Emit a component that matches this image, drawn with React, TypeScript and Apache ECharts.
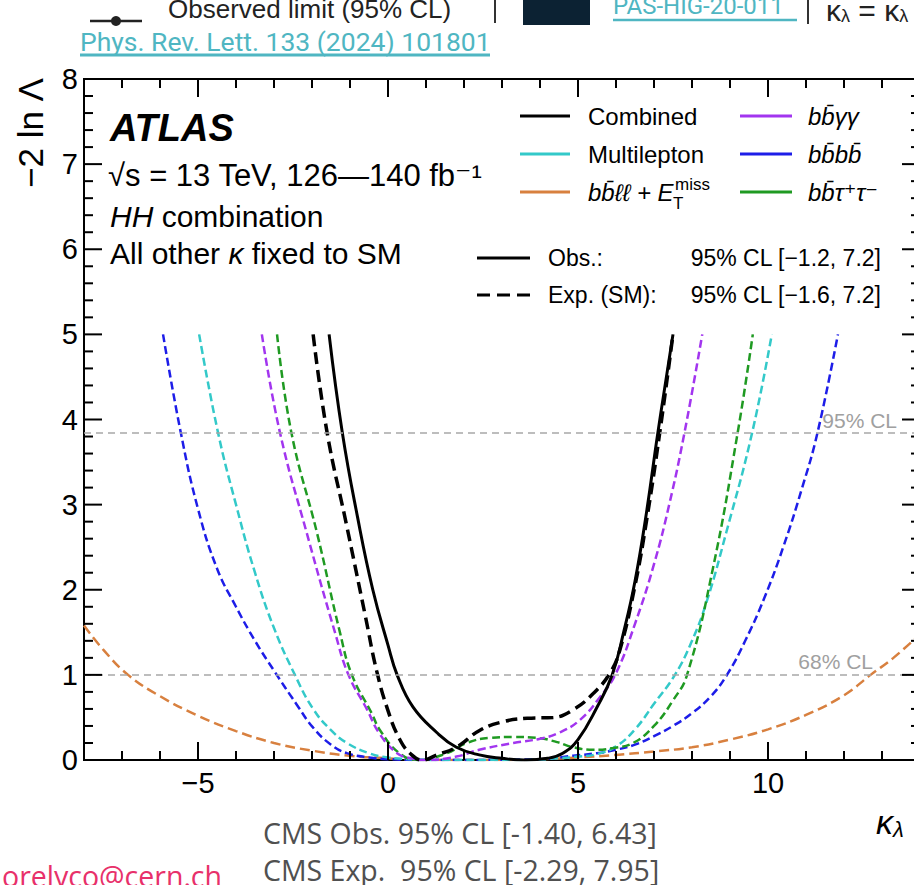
import React, { useEffect, useRef } from "react";
import * as echarts from "echarts";

// ---- data (kappa_lambda, -2 ln Lambda) ----
const combinedObs = [[-1.55,5.0],[-1.2,3.84],[-0.8,2.85],[-0.4,2.0],[0.0,1.35],[0.24,1.0],[0.66,0.62],[1.29,0.32],[1.8,0.15],[2.4,0.06],[3.0,0.02],[3.6,0.0],[4.2,0.02],[4.6,0.08],[5.0,0.24],[5.5,0.62],[5.9,1.0],[6.2,1.5],[6.5,2.1],[6.8,2.9],[7.1,3.84],[7.5,5.0]];
const combinedExp = [[-1.97,5.0],[-1.6,3.84],[-1.1,2.78],[-0.6,1.7],[-0.3,1.05],[0.0,0.58],[0.3,0.25],[0.6,0.07],[0.9,0.0],[1.29,0.06],[1.8,0.15],[2.42,0.35],[3.03,0.45],[3.66,0.49],[4.35,0.5],[4.87,0.59],[5.4,0.78],[5.84,1.02],[6.1,1.29],[6.5,2.05],[6.8,2.8],[7.15,3.84],[7.5,5.0]];
const bbyy = [[-3.32,5.0],[-2.84,3.84],[-2.14,2.67],[-1.39,1.49],[-1.04,1.0],[-0.56,0.6],[-0.21,0.3],[0.24,0.08],[0.6,0.02],[1.0,0.0],[1.8,0.04],[2.4,0.12],[3.3,0.2],[4.0,0.25],[4.5,0.32],[5.05,0.47],[5.58,0.74],[6.0,1.02],[6.5,1.6],[7.0,2.3],[7.4,3.0],[7.8,3.84],[8.27,5.0]];
const bbtautau = [[-2.92,5.0],[-2.54,3.84],[-1.87,2.67],[-1.26,1.49],[-0.95,1.0],[-0.43,0.55],[-0.21,0.35],[0.3,0.08],[0.8,0.0],[1.55,0.08],[2.07,0.2],[2.68,0.26],[3.3,0.27],[3.92,0.26],[4.45,0.21],[4.87,0.15],[5.4,0.12],[5.92,0.14],[6.45,0.2],[7.0,0.4],[7.5,0.7],[7.87,1.0],[8.55,2.25],[9.2,3.84],[9.6,5.0]];
const multilepton = [[-4.97,5.0],[-4.47,3.84],[-4.0,3.0],[-3.5,2.2],[-3.0,1.55],[-2.45,1.0],[-1.97,0.6],[-1.5,0.35],[-1.08,0.2],[-0.5,0.08],[0.0,0.03],[0.6,0.01],[1.5,0.0],[3.5,0.0],[4.5,0.02],[5.0,0.04],[5.5,0.07],[6.0,0.16],[6.5,0.36],[7.0,0.66],[7.55,1.0],[8.0,1.4],[8.4,1.88],[8.9,2.67],[9.58,3.84],[10.1,5.0]];
const bbbb = [[-5.92,5.0],[-5.45,3.84],[-5.0,2.95],[-4.5,2.25],[-4.0,1.8],[-3.5,1.4],[-3.0,1.05],[-2.4,0.65],[-1.97,0.38],[-1.5,0.18],[-1.08,0.08],[-0.5,0.03],[0.0,0.01],[1.0,0.0],[4.0,0.01],[4.87,0.05],[5.5,0.08],[6.0,0.12],[6.5,0.18],[7.0,0.28],[7.5,0.4],[8.0,0.55],[8.5,0.75],[8.92,1.0],[9.4,1.4],[9.9,1.9],[10.4,2.5],[10.9,3.2],[11.3,3.84],[11.84,5.0]];
const bbllMET = [[-8.0,1.58],[-7.5,1.3],[-6.84,1.0],[-6.0,0.75],[-5.0,0.52],[-4.0,0.34],[-3.0,0.2],[-2.0,0.11],[-1.0,0.05],[0.0,0.02],[1.0,0.0],[3.0,0.0],[4.0,0.01],[5.0,0.03],[6.0,0.06],[7.0,0.1],[8.0,0.15],[9.0,0.24],[10.0,0.36],[11.0,0.53],[12.0,0.76],[12.7,1.0],[13.3,1.2],[14.0,1.48]];

const clLevels = [3.84, 1.0];
const clLabels = ["95% CL", "68% CL"];
const xMajorTicks = [-5, 0, 5, 10];
const yMajorTicks = [0, 1, 2, 3, 4, 5, 6, 7, 8];

const C = {
  purple: "#a235ef",
  cyan: "#33c9c9",
  blue: "#1d1de8",
  green: "#1f9a22",
  orange: "#d8803f",
  teal: "#4fb6c2",
};
const FONT = '"Liberation Sans", Arial, "DejaVu Sans", sans-serif';
const SMOOTH = 0.45;

export default function App() {
  const ref = useRef<HTMLDivElement>(null);
  useEffect(() => {
    const chart = echarts.init(ref.current!, null, { renderer: "svg" });

    const xTickData: number[][] = [];
    for (let v = -8; v <= 14; v++) xTickData.push([v, xMajorTicks.includes(v) ? 1 : 0]);
    const yTickData: number[][] = [];
    for (let i = 0; i <= 40; i++) {
      const v = i / 5;
      yTickData.push([v, yMajorTicks.includes(v) ? 1 : 0]);
    }

    const dashed = (name: string, data: number[][], color: string, dash: number[], width = 2.5, z = 2) => ({
      name,
      type: "line",
      data,
      smooth: SMOOTH,
      showSymbol: false,
      symbol: "none",
      clip: true,
      z,
      lineStyle: { color, width, type: dash },
    });

    const txt = (text: string, x: number, y: number, font: string, fill = "#000", align = "left", extra: any = {}) => ({
      type: "text",
      x,
      y,
      silent: true,
      style: { text, font, fill, align, verticalAlign: "middle", textAlign: align, textVerticalAlign: "middle", ...extra },
    });
    const ln = (x1: number, y1: number, x2: number, y2: number, stroke: string, lineWidth = 3, lineDash: any = null) => ({
      type: "line",
      silent: true,
      shape: { x1, y1, x2, y2 },
      style: { stroke, lineWidth, lineDash },
    });

    const legendFont = `24px ${FONT}`;
    const legendItalic = `italic 24px ${FONT}`;
    const slideFont = `"Open Sans", ${FONT}`;

    const graphic: any[] = [
      // top strip of the slide
      ln(90, 21, 142, 21, "#222", 2.5),
      { type: "circle", shape: { cx: 116, cy: 21, r: 5 }, style: { fill: "#222" } },
      txt("Observed limit (95% CL)", 168, 9, `26px ${FONT}`, "#222"),
      ln(495, 0, 495, 23, "#333", 2),
      { type: "rect", shape: { x: 523, y: 0, width: 67, height: 25 }, style: { fill: "#0c2233" } },
      txt("PAS-HIG-20-011", 613, 6, `24px Roboto, ${FONT}`, C.teal),
      ln(613, 20, 797, 20, C.teal, 2.5),
      ln(808, 0, 808, 24, "#333", 2),
      {
        type: "text", x: 826, y: 10, silent: true,
        style: {
          text: "{k|κ}{s|λ}{k| = κ}{s|λ}", verticalAlign: "middle", textVerticalAlign: "middle",
          rich: { k: { font: `30px ${FONT}`, fill: "#222" }, s: { font: `18px ${FONT}`, fill: "#222", padding: [12, 0, 0, 0] } },
        },
      },
      txt("Phys. Rev. Lett. 133 (2024) 101801", 80, 41, `26.5px Roboto, ${FONT}`, C.teal),
      ln(80, 55, 490, 55, C.teal, 3),

      // y-axis title
      {
        type: "text", x: 30, y: 133, rotation: Math.PI / 2, silent: true,
        style: { text: "−2 ln Λ", font: `35px ${FONT}`, fill: "#000", align: "center", verticalAlign: "middle", textAlign: "center", textVerticalAlign: "middle" },
      },

      // ATLAS block
      txt("ATLAS", 110, 128, `italic bold 38px ${FONT}`),
      txt("√s = 13 TeV, 126—140 fb⁻¹", 108, 175, `31px ${FONT}`),
      {
        type: "text", x: 110, y: 216, silent: true,
        style: { text: "{i|HH}{n| combination}", verticalAlign: "middle", textVerticalAlign: "middle",
          rich: { i: { font: `italic 30px ${FONT}`, fill: "#000" }, n: { font: `30px ${FONT}`, fill: "#000" } } },
      },
      {
        type: "text", x: 110, y: 253, silent: true,
        style: { text: "{n|All other }{i|κ}{n| fixed to SM}", verticalAlign: "middle", textVerticalAlign: "middle",
          rich: { i: { font: `italic 30px ${FONT}`, fill: "#000" }, n: { font: `30px ${FONT}`, fill: "#000" } } },
      },

      // channel legend
      ln(520, 116, 570, 116, "#000", 3),
      txt("Combined", 588, 116, legendFont),
      ln(520, 154, 570, 154, C.cyan, 3),
      txt("Multilepton", 588, 154, legendFont),
      ln(520, 192, 570, 192, C.orange, 3),
      txt("bb̄ℓℓ + E", 588, 192, legendItalic),
      txt("miss", 675, 184, `17px ${FONT}`),
      txt("T", 673, 203, `17px ${FONT}`),
      ln(740, 116, 792, 116, C.purple, 3),
      txt("bb̄γγ", 808, 116, legendItalic),
      ln(740, 154, 792, 154, C.blue, 3),
      txt("bb̄bb̄", 808, 154, legendItalic),
      ln(740, 192, 792, 192, C.green, 3),
      txt("bb̄τ⁺τ⁻", 808, 192, legendItalic),

      // obs / exp legend
      ln(477, 258, 530, 258, "#000", 3),
      txt("Obs.:", 548, 258, `23px ${FONT}`),
      txt("95% CL [−1.2, 7.2]", 881, 258, `23px ${FONT}`, "#000", "right"),
      ln(477, 295, 530, 295, "#000", 3, [13, 7]),
      txt("Exp. (SM):", 548, 295, `23px ${FONT}`),
      txt("95% CL [−1.6, 7.2]", 881, 295, `23px ${FONT}`, "#000", "right"),

      // CL labels
      txt(clLabels[0], 897, 420, `21px ${FONT}`, "#a0a0a0", "right"),
      txt(clLabels[1], 873, 661, `21px ${FONT}`, "#a0a0a0", "right"),

      // bottom of slide
      {
        type: "text", x: 876, y: 822, silent: true,
        style: { text: "{k|κ}{s|λ}", verticalAlign: "middle", textVerticalAlign: "middle",
          rich: { k: { font: `italic 34px ${FONT}`, fill: "#000" }, s: { font: `italic 22px ${FONT}`, fill: "#000", padding: [14, 0, 0, 0] } } },
      },
      txt("CMS Obs. 95% CL [-1.40, 6.43]", 263, 833, `28.5px ${slideFont}`, "#505050"),
      txt("CMS Exp.  95% CL [-2.29, 7.95]", 263, 870, `28.5px ${slideFont}`, "#505050"),
      txt("orelyco@cern.ch", 222, 876, `28.5px ${slideFont}`, "#e8306a", "right"),
    ];

    const option: any = {
      animation: false,
      backgroundColor: "#ffffff",
      grid: { left: 84, top: 79, width: 836, height: 681, show: true, borderColor: "#000", borderWidth: 2, backgroundColor: "transparent" },
      xAxis: {
        type: "value", min: -8, max: 14, interval: 1,
        axisLine: { show: false }, axisTick: { show: false }, splitLine: { show: false },
        axisLabel: {
          margin: 8, color: "#000", fontSize: 29, fontFamily: FONT,
          formatter: (v: number) => (xMajorTicks.includes(v) ? String(v).replace("-", "−") : ""),
        },
      },
      yAxis: {
        type: "value", min: 0, max: 8, interval: 1,
        axisLine: { show: false }, axisTick: { show: false }, splitLine: { show: false },
        axisLabel: { margin: 6, color: "#000", fontSize: 29, fontFamily: FONT, formatter: (v: number) => (yMajorTicks.includes(v) ? String(v) : "") },
      },
      graphic,
      series: [
        {
          type: "custom", name: "xticks", data: xTickData, clip: false, silent: true, z: 5,
          renderItem: (params: any, api: any) => {
            const v = api.value(0);
            const len = api.value(1) === 1 ? 18 : 9;
            const p = api.coord([v, 0]);
            const cs = params.coordSys;
            const top = cs.y, bottom = cs.y + cs.height;
            return {
              type: "group",
              children: [
                { type: "line", shape: { x1: p[0], y1: bottom, x2: p[0], y2: bottom - len }, style: { stroke: "#000", lineWidth: 2 } },
                { type: "line", shape: { x1: p[0], y1: top, x2: p[0], y2: top + len }, style: { stroke: "#000", lineWidth: 2 } },
              ],
            };
          },
        },
        {
          type: "custom", name: "yticks", data: yTickData, clip: false, silent: true, z: 5,
          renderItem: (params: any, api: any) => {
            const v = api.value(0);
            const len = api.value(1) === 1 ? 18 : 9;
            const p = api.coord([-8, v]);
            const cs = params.coordSys;
            const left = cs.x, right = cs.x + cs.width;
            return {
              type: "group",
              children: [
                { type: "line", shape: { x1: left, y1: p[1], x2: left + len, y2: p[1] }, style: { stroke: "#000", lineWidth: 2 } },
                { type: "line", shape: { x1: right, y1: p[1], x2: right - len, y2: p[1] }, style: { stroke: "#000", lineWidth: 2 } },
              ],
            };
          },
        },
        {
          ...dashed("bbllMET", bbllMET, C.orange, [10, 5], 2.5, 2),
          markLine: {
            silent: true, symbol: "none", label: { show: false },
            lineStyle: { color: "#a8a8a8", width: 1.6, type: [7, 5] },
            data: clLevels.map((y) => ({ yAxis: y })),
          },
        },
        dashed("bbbb", bbbb, C.blue, [8, 4], 2.5, 3),
        dashed("multilepton", multilepton, C.cyan, [8, 4], 2.5, 3),
        dashed("bbtautau", bbtautau, C.green, [8, 4], 2.5, 3),
        dashed("bbyy", bbyy, C.purple, [8, 4], 2.5, 3),
        dashed("combinedExp", combinedExp, "#000", [12, 6], 3.5, 4),
        {
          name: "combinedObs", type: "line", data: combinedObs, smooth: SMOOTH,
          showSymbol: false, symbol: "none", clip: true, z: 4, lineStyle: { color: "#000", width: 3 },
        },
      ],
    };
    chart.setOption(option);
    return () => chart.dispose();
  }, []);

  return (
    <div style={{ position: "fixed", left: 0, top: 0, width: 914, height: 885, overflow: "hidden", background: "#fff" }}>
      <div ref={ref} style={{ width: 930, height: 885 }} />
    </div>
  );
}
